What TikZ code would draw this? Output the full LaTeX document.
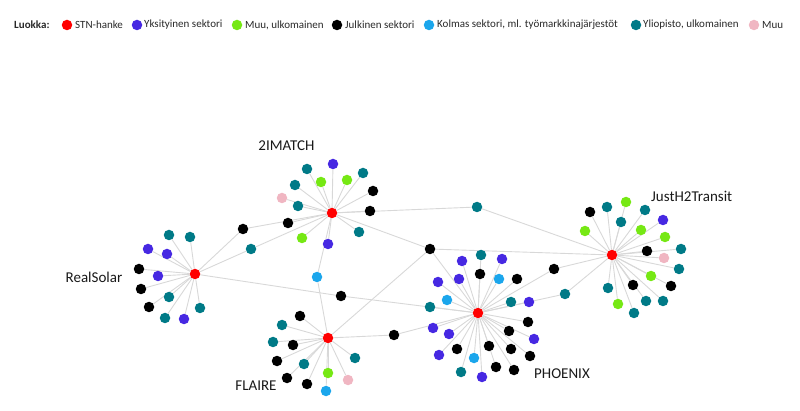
\documentclass[tikz,border=0pt]{standalone}
\usepackage{fontspec}
\setmainfont{Carlito}
\usetikzlibrary{backgrounds}
\definecolor{cRed}{RGB}{255,0,0}
\definecolor{cBlue}{RGB}{70,40,226}
\definecolor{cGreen}{RGB}{118,232,20}
\definecolor{cBlack}{RGB}{0,0,0}
\definecolor{cLight}{RGB}{27,166,236}
\definecolor{cTeal}{RGB}{0,122,135}
\definecolor{cPink}{RGB}{240,182,194}
\definecolor{cEdge}{RGB}{216,216,216}
\definecolor{cText}{RGB}{40,40,40}
\tikzset{
  dot/.style={circle,fill=#1,inner sep=0pt,minimum size=10.5pt},
  hub/.style={circle,fill=cRed,inner sep=0pt,minimum size=10.5pt},
  link/.style={draw=cEdge,line width=0.9pt},
  lbl/.style={font=\fontsize{15}{17}\selectfont,text=black!90,inner sep=0pt},
  leg/.style={font=\fontsize{11}{13}\selectfont,text=cText,anchor=west,inner sep=0pt},
}
\begin{document}
\begin{tikzpicture}[x=1pt,y=-1pt]
\useasboundingbox (0,0) rectangle (800,411);
% legend
\node[leg,font=\fontsize{11}{13}\selectfont\bfseries] (legT) at (14,25) {Luokka:};
\node[dot=cRed]   (lg1) at (67,25) {};  \node[leg] (lt1) at (75,25) {STN-hanke};
\node[dot=cBlue]  (lg2) at (137,25) {}; \node[leg] (lt2) at (144,25) {Yksityinen sektori};
\node[dot=cGreen] (lg3) at (237,25) {}; \node[leg] (lt3) at (245,25) {Muu, ulkomainen};
\node[dot=cBlack] (lg4) at (337,25) {}; \node[leg] (lt4) at (345,25) {Julkinen sektori};
\node[dot=cLight] (lg5) at (429,25) {}; \node[leg] (lt5) at (437,25) {Kolmas sektori, ml. työmarkkinajärjestöt};
\node[dot=cTeal]  (lg6) at (636,25) {}; \node[leg] (lt6) at (643,25) {Yliopisto, ulkomainen};
\node[dot=cPink]  (lg7) at (754,25) {}; \node[leg] (lt7) at (762,25) {Muu};

% hubs
\node[hub] (im) at (332,213) {};
\node[hub] (rs) at (195,274) {};
\node[hub] (jh) at (612,255) {};
\node[hub] (fl) at (328,338) {};
\node[hub] (ph) at (478,313) {};

% labels
\node[lbl] (t1) at (286.5,146) {2IMATCH};
\node[lbl] (t2) at (94,277) {RealSolar};
\node[lbl,anchor=west] (t3) at (651,196) {JustH2Transit};
\node[lbl] (t4) at (256,386) {FLAIRE};
\node[lbl,anchor=west] (t5) at (534,374) {PHOENIX};

% 2IMATCH members
\foreach \n/\c/\x/\y in {1/cTeal/307/169, 2/cBlue/333/164, 3/cTeal/363/173, 4/cGreen/321/182,
  5/cGreen/347/180, 6/cTeal/295/185, 7/cBlack/373/191, 8/cPink/282/198, 9/cTeal/298/206,
  10/cBlack/370/211, 11/cBlack/288/223, 12/cTeal/359/232, 13/cGreen/302/238, 14/cBlue/328/244}
  {\node[dot=\c] (im\n) at (\x,\y) {};
   \begin{scope}[on background layer]\draw[link] (im) -- (im\n);\end{scope}}

% RealSolar members
\foreach \n/\c/\x/\y in {1/cTeal/169/235, 2/cTeal/190/237, 3/cBlue/148/249, 4/cBlue/167/254,
  5/cBlack/139/269, 6/cBlue/158/276, 7/cBlack/141/289, 8/cTeal/169/297, 9/cBlack/149/307,
  10/cTeal/200/308, 11/cTeal/165/318, 12/cBlue/184/319}
  {\node[dot=\c] (rs\n) at (\x,\y) {};
   \begin{scope}[on background layer]\draw[link] (rs) -- (rs\n);\end{scope}}

% JustH2Transit members
\foreach \n/\c/\x/\y in {1/cGreen/626/202, 2/cTeal/607/207, 3/cBlack/590/212, 4/cTeal/645/210,
  5/cTeal/621/222, 6/cBlue/663/220, 7/cGreen/585/231, 8/cGreen/641/230, 9/cGreen/665/237,
  10/cTeal/681/249, 11/cBlack/647/251, 12/cPink/664/258, 13/cTeal/679/269, 14/cGreen/651/276,
  15/cBlack/671/286, 16/cTeal/608/288, 17/cBlack/633/285, 18/cTeal/646/301, 19/cTeal/663/301,
  20/cGreen/618/304, 21/cTeal/634/313}
  {\node[dot=\c] (jh\n) at (\x,\y) {};
   \begin{scope}[on background layer]\draw[link] (jh) -- (jh\n);\end{scope}}

% FLAIRE members
\foreach \n/\c/\x/\y in {1/cBlack/300/316, 2/cTeal/282/325, 3/cTeal/273/342, 4/cBlack/293/345,
  5/cBlack/277/361, 6/cTeal/304/364, 7/cTeal/355/358, 8/cGreen/328/373, 9/cBlack/287/378,
  10/cPink/348/380, 11/cBlack/307/384, 12/cLight/326/391}
  {\node[dot=\c] (fl\n) at (\x,\y) {};
   \begin{scope}[on background layer]\draw[link] (fl) -- (fl\n);\end{scope}}

% PHOENIX members
\foreach \n/\c/\x/\y in {1/cTeal/481/255, 2/cBlue/462/261, 3/cBlue/502/259, 4/cBlack/480/274,
  5/cBlue/459/279, 6/cLight/499/279, 7/cBlack/517/279, 8/cBlue/438/282, 9/cLight/447/300,
  10/cTeal/511/302, 11/cBlue/529/302, 12/cTeal/430/307, 13/cBlack/528/322, 14/cBlue/433/328,
  15/cBlack/509/331, 16/cBlue/449/334, 17/cBlue/534/339, 18/cBlack/489/346, 19/cBlue/439/355,
  20/cBlack/457/349, 21/cLight/474/358, 22/cBlack/511/349, 23/cBlack/530/356, 24/cTeal/461/372,
  25/cBlack/496/367, 26/cBlack/514/370, 27/cBlue/482/377}
  {\node[dot=\c] (ph\n) at (\x,\y) {};
   \begin{scope}[on background layer]\draw[link] (ph) -- (ph\n);\end{scope}}

% shared members
\node[dot=cBlack] (c1) at (243,229) {};
\node[dot=cTeal]  (c2) at (251,249) {};
\node[dot=cLight] (c3) at (317,277) {};
\node[dot=cTeal]  (c4) at (477,207) {};
\node[dot=cBlack] (c5) at (430,249) {};
\node[dot=cBlack] (c6) at (341,296) {};
\node[dot=cBlack] (c7) at (394,335) {};
\node[dot=cBlack] (c8) at (554,269) {};
\node[dot=cTeal]  (c9) at (565,294) {};
\begin{scope}[on background layer]
\draw[link] (im) -- (c1) -- (rs);
\draw[link] (im) -- (c2) -- (rs);
\draw[link] (im) -- (c3) -- (fl);
\draw[link] (im) -- (c4) -- (jh);
\draw[link] (im) -- (c5) -- (fl);
\draw[link] (ph) -- (c5) -- (jh);
\draw[link] (rs) -- (c6) -- (ph);
\draw[link] (fl) -- (c7) -- (ph);
\draw[link] (ph) -- (c8) -- (jh);
\draw[link] (ph) -- (c9) -- (jh);
\end{scope}
\end{tikzpicture}
\end{document}
